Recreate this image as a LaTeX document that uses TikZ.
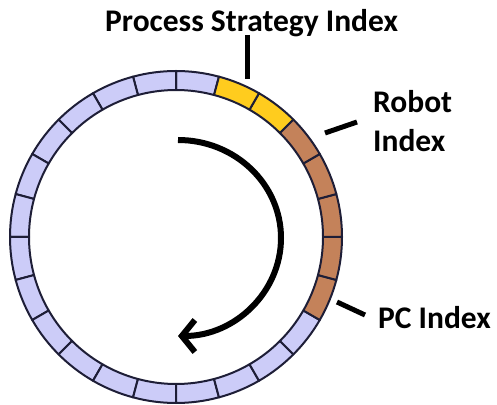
\documentclass[tikz,border=0pt]{standalone}
\usepackage{fontspec}
\setmainfont{Carlito}
\usetikzlibrary{arrows.meta}
\definecolor{lav}{RGB}{204,204,248}
\definecolor{ylw}{RGB}{255,204,30}
\definecolor{brn}{RGB}{196,130,90}
\definecolor{edge}{RGB}{30,30,55}
\begin{document}
\begin{tikzpicture}[x=1pt,y=1pt,
  seg/.style={draw=edge,line width=2pt,line join=round},
  tick/.style={line width=5pt,black},
  lbl/.style={font=\fontsize{31.5}{38}\selectfont\bfseries,inner sep=0pt,anchor=base west,text=black},
  turn/.style={line width=6pt,black,-{Straight Barb[length=13pt,width=32pt]}}]
\useasboundingbox (0,0) rectangle (497,404);
\begin{scope}[shift={(176,167)}]
  \foreach \a in {75,90,...,315}
    \draw[seg,fill=lav] (\a:147pt) arc[start angle=\a,delta angle=15,radius=147pt] -- (\a+15:166pt) arc[start angle=\a+15,delta angle=-15,radius=166pt] -- cycle;
  \foreach \a in {45,60}
    \draw[seg,fill=ylw] (\a:147pt) arc[start angle=\a,delta angle=15,radius=147pt] -- (\a+15:166pt) arc[start angle=\a+15,delta angle=-15,radius=166pt] -- cycle;
  \foreach \a in {-30,-15,0,15,30}
    \draw[seg,fill=brn] (\a:147pt) arc[start angle=\a,delta angle=15,radius=147pt] -- (\a+15:166pt) arc[start angle=\a+15,delta angle=-15,radius=166pt] -- cycle;
\end{scope}
\coordinate (arcstart) at (178,264);
\draw[turn] (arcstart) arc[start angle=90,end angle=-90,x radius=103pt,y radius=98pt];
\node[lbl] (psi) at (105,372) {Process Strategy Index};
\node[lbl] (robot) at (373,291) {Robot};
\node[lbl] (robotidx) at (373,252) {Index};
\node[lbl] (pc) at (378,76) {PC Index};
\coordinate (psiA) at (247,369);
\coordinate (psiB) at (247,325);
\coordinate (robA) at (357,282);
\coordinate (robB) at (325,271);
\coordinate (pcA) at (365,89);
\coordinate (pcB) at (337,102);
\draw[tick] (psiA) -- (psiB);
\draw[tick] (robA) -- (robB);
\draw[tick] (pcA) -- (pcB);
\end{tikzpicture}
\end{document}
